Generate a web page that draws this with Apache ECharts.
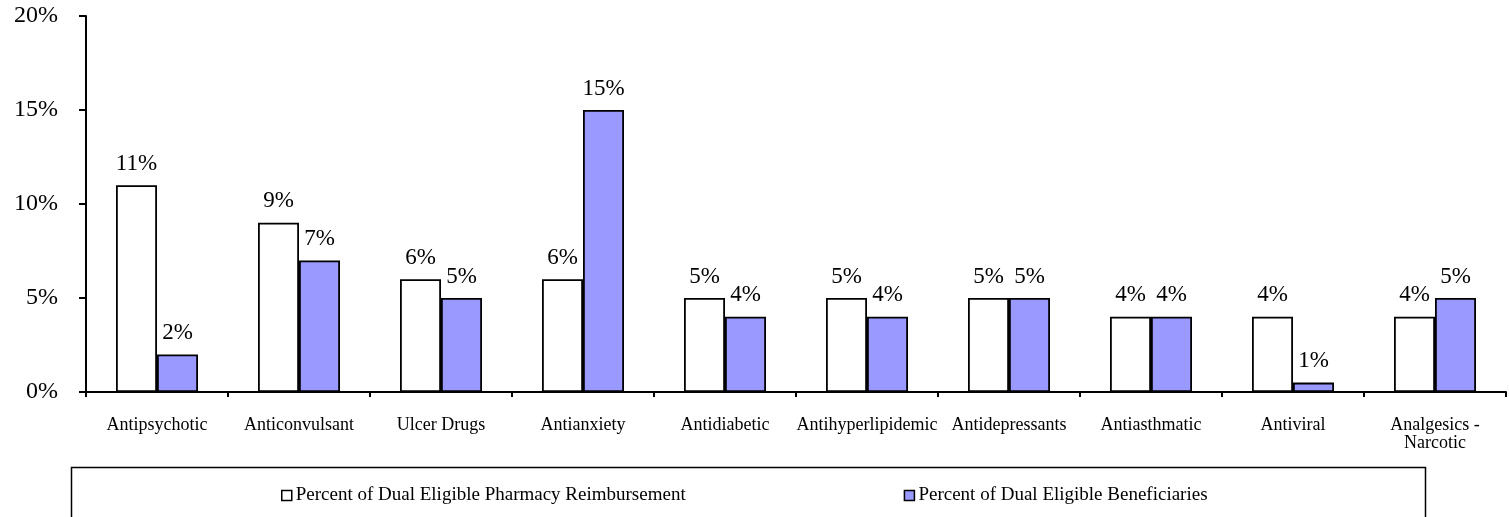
<!DOCTYPE html>
<html>
<head>
<meta charset="utf-8">
<script src="https://cdn.jsdelivr.net/npm/echarts@6/dist/echarts.min.js"></script>
<style>
    html, body { margin: 0; padding: 0; background: #fff; }
    #chart { width: 1509px; height: 517px; }
</style>
</head>
<body>
<div id="chart"></div>
<script>
var categories = ['Antipsychotic', 'Anticonvulsant', 'Ulcer Drugs', 'Antianxiety', 'Antidiabetic',
    'Antihyperlipidemic', 'Antidepressants', 'Antiasthmatic', 'Antiviral', 'Analgesics -\nNarcotic'];
var reimbursement = [11, 9, 6, 6, 5, 5, 5, 4, 4, 4];
var beneficiaries = [2, 7, 5, 15, 4, 4, 5, 4, 0.5, 5];
var seriesNames = ['Percent of Dual Eligible Pharmacy Reimbursement', 'Percent of Dual Eligible Beneficiaries'];

var serif = '"Liberation Serif", "Times New Roman", serif';

window.onload = function () {
    var chart = echarts.init(document.getElementById('chart'));

    var label = {
        show: true,
        position: 'top',
        distance: 10,
        color: '#000',
        fontFamily: serif,
        fontSize: 23,
        formatter: function (p) {
            return Math.round(p.value) + '%';
        }
    };

    var option = {
        animation: false,
        backgroundColor: '#fff',
        grid: {
            left: 86,
            top: 16,
            width: 1420,
            height: 376
        },
        graphic: [{
            type: 'rect',
            left: 69,
            top: 465,
            shape: { width: 1354, height: 80 },
            style: { fill: 'none', stroke: '#000', lineWidth: 1.5 },
            silent: true
        }],
        legend: {
            left: 276,
            top: 481,
            itemWidth: 10,
            itemHeight: 10,
            itemGap: 218,
            icon: 'rect',
            itemStyle: { borderColor: '#000', borderWidth: 1.5 },
            textStyle: { fontFamily: serif, fontSize: 19, color: '#000', padding: [0, 0, 0, -1] },
            data: seriesNames
        },
        xAxis: {
            type: 'category',
            data: categories,
            axisLine: { lineStyle: { color: '#000', width: 2 } },
            axisTick: { show: true, length: 5, lineStyle: { color: '#000', width: 2 } },
            axisLabel: {
                color: '#000',
                fontFamily: serif,
                fontSize: 18,
                margin: 24,
                interval: 0,
                lineHeight: 18
            }
        },
        yAxis: {
            type: 'value',
            min: 0,
            max: 20,
            interval: 5,
            axisLine: { show: true, lineStyle: { color: '#000', width: 2 } },
            axisTick: { show: true, length: 7, lineStyle: { color: '#000', width: 2 } },
            splitLine: { show: false },
            axisLabel: {
                color: '#000',
                fontFamily: serif,
                fontSize: 24,
                margin: 28,
                formatter: '{value}%'
            }
        },
        series: [{
            name: seriesNames[0],
            type: 'bar',
            data: reimbursement,
            barWidth: 41,
            barGap: '0%',
            itemStyle: { color: '#ffffff', borderColor: '#000', borderWidth: 1.8 },
            label: label
        }, {
            name: seriesNames[1],
            type: 'bar',
            data: beneficiaries,
            barWidth: 41,
            barGap: '0%',
            itemStyle: { color: '#9999ff', borderColor: '#000', borderWidth: 1.8 },
            label: label
        }]
    };
    chart.setOption(option);
};
</script>
</body>
</html>
